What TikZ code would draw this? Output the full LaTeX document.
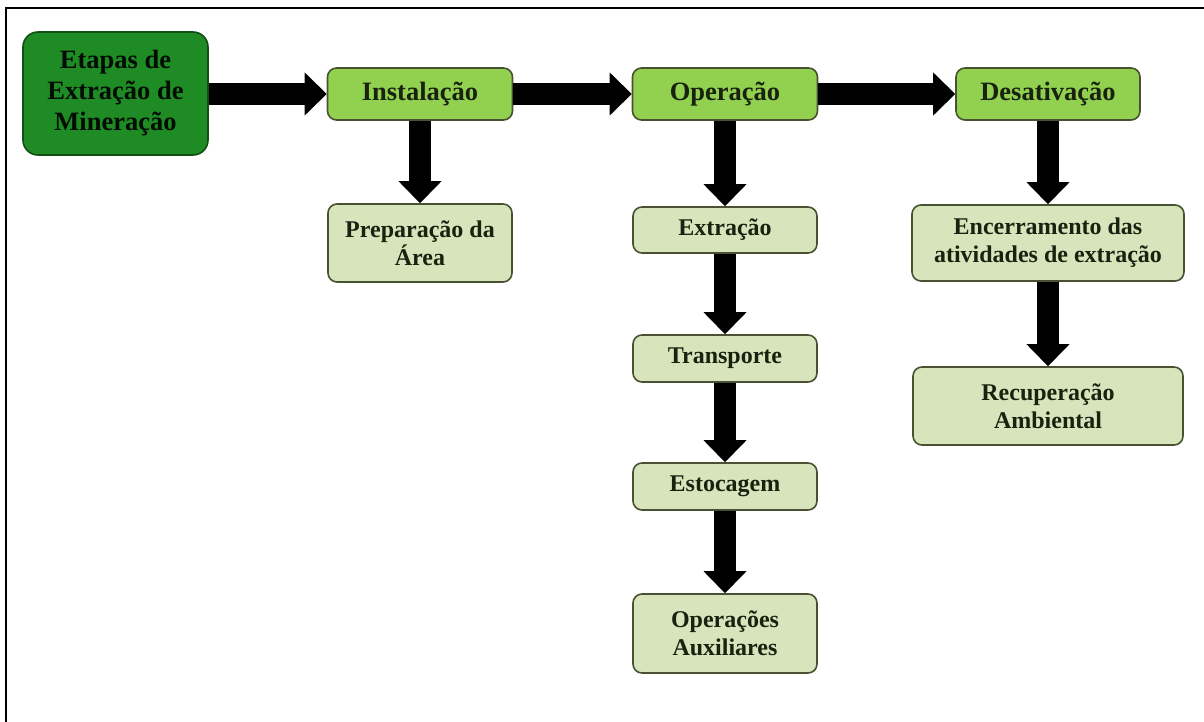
\documentclass[tikz,border=0pt]{standalone}
\usepackage{fontspec}
\setmainfont{Liberation Serif}
\usetikzlibrary{arrows.meta}
\definecolor{darkfill}{HTML}{1F8B24}
\definecolor{darkline}{HTML}{124F14}
\definecolor{headfill}{HTML}{92D050}
\definecolor{subfill}{HTML}{D8E4BC}
\definecolor{boxline}{HTML}{485232}
\definecolor{txt}{HTML}{18220F}
\tikzset{
  basebox/.style={draw=boxline, line width=1.6pt, rounded corners=9pt, align=center,
    text=txt, inner sep=0pt, font=\bfseries\fontsize{24}{28}\selectfont},
  rootbox/.style={basebox, fill=darkfill, draw=darkline, rounded corners=15pt,
    text=black!85!darkline, font=\bfseries\fontsize{26.5}{31}\selectfont},
  headbox/.style={basebox, fill=headfill, font=\bfseries\fontsize{26.5}{31}\selectfont},
  subbox/.style={basebox, fill=subfill},
  bigarrow/.style={draw=black, line width=22pt,
    -{Triangle[width=43pt,length=22pt,line width=0pt]}}
}
\begin{document}
\begin{tikzpicture}[x=1pt,y=-1pt]
\useasboundingbox (0,0) rectangle (1204,722);
\fill[white] (0,0) rectangle (1204,722);
\draw[line width=2.5pt, black] (6,722) -- (6,8) -- (1204,8);

\node[rootbox, minimum width=185pt, minimum height=123pt] (root) at (115.5,93.5)
  {Etapas de\\Extração de\\Mineração};
\node[headbox, minimum width=185pt, minimum height=52pt] (inst) at (420,94) {Instalação};
\node[headbox, minimum width=185pt, minimum height=52pt] (oper) at (725,94) {Operação};
\node[headbox, minimum width=184pt, minimum height=52pt] (desa) at (1048,94) {Desativação};

\node[subbox, minimum width=184pt, minimum height=78pt] (prep) at (420,243) {Preparação da\\Área};

\node[subbox, minimum width=184pt, minimum height=46pt] (extr) at (725,230) {Extração};
\node[subbox, minimum width=184pt, minimum height=47pt] (tran) at (725,358.5) {Transporte};
\node[subbox, minimum width=184pt, minimum height=47pt] (esto) at (725,486.5) {Estocagem};
\node[subbox, minimum width=184pt, minimum height=79pt] (aux) at (725,633.5) {Operações\\Auxiliares};

\node[subbox, minimum width=272pt, minimum height=76pt] (ence) at (1048,243) {Encerramento das\\atividades de extração};
\node[subbox, minimum width=270pt, minimum height=78pt] (recu) at (1048,406) {Recuperação\\Ambiental};

\draw[bigarrow] (root.east |- inst.west) -- (inst.west);
\draw[bigarrow] (inst.east) -- (oper.west);
\draw[bigarrow] (oper.east) -- (desa.west);

\draw[bigarrow] (inst.south) -- (prep.north);
\draw[bigarrow] (oper.south) -- (extr.north);
\draw[bigarrow] (extr.south) -- (tran.north);
\draw[bigarrow] (tran.south) -- (esto.north);
\draw[bigarrow] (esto.south) -- (aux.north);
\draw[bigarrow] (desa.south) -- (ence.north);
\draw[bigarrow] (ence.south) -- (recu.north);
\end{tikzpicture}
\end{document}
